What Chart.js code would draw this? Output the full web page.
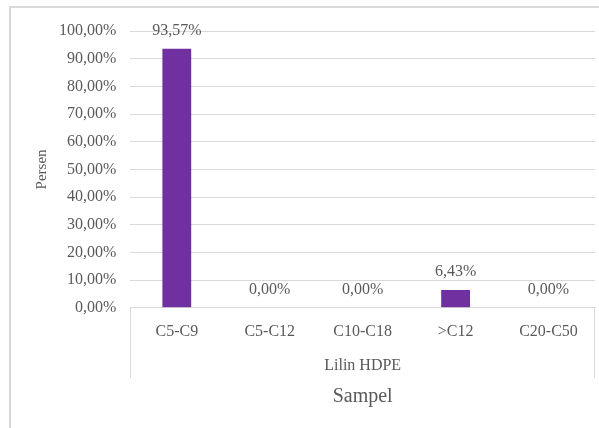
<!DOCTYPE html>
<html lang="en">
<head>
    <meta charset="UTF-8">
    <title>Lilin HDPE</title>
    <style>
        body {
            margin: 0;
            padding: 0;
            background-color: #ffffff;
        }
        .chart-container {
            width: 599px;
            height: 428px;
        }
    </style>
</head>
<body>

    <div class="chart-container">
        <canvas id="hdpeChart"></canvas>
    </div>

    <script src="https://cdn.jsdelivr.net/npm/chart.js"></script>

    <script>
        const categories = ['C5-C9', 'C5-C12', 'C10-C18', '>C12', 'C20-C50'];
        const persen = [0.9357, 0, 0, 0.0643, 0];
        const groupLabel = 'Lilin HDPE';
        const xTitle = 'Sampel';
        const yTitle = 'Persen';

        const textColor = '#595959';
        const lineColor = '#d9d9d9';
        const serif = "'Liberation Serif', 'Times New Roman', serif";

        function pct(v) {
            return (v * 100).toFixed(2).replace('.', ',') + '%';
        }

        // labels above bars, the group label and the frame
        const extras = {
            id: 'extras',
            afterDraw(chart) {
                const c = chart.ctx;
                const area = chart.chartArea;
                const meta = chart.getDatasetMeta(0);

                c.save();
                c.fillStyle = textColor;
                c.font = '16px ' + serif;
                c.textAlign = 'center';
                c.textBaseline = 'bottom';
                meta.data.forEach((bar, i) => {
                    c.fillText(pct(persen[i]), bar.x, bar.y - 10);
                });

                // group box lines
                c.strokeStyle = lineColor;
                c.lineWidth = 1;
                c.beginPath();
                c.moveTo(Math.round(area.left) + 0.5, area.bottom);
                c.lineTo(Math.round(area.left) + 0.5, area.bottom + 70);
                c.moveTo(Math.round(area.right) - 0.5, area.bottom);
                c.lineTo(Math.round(area.right) - 0.5, area.bottom + 70);
                c.stroke();

                c.textBaseline = 'middle';
                c.fillText(groupLabel, (area.left + area.right) / 2, area.bottom + 58);

                // outer frame (cut by the picture edge)
                c.lineWidth = 2;
                c.beginPath();
                c.moveTo(10, chart.height + 5);
                c.lineTo(10, 7);
                c.lineTo(chart.width + 5, 7);
                c.stroke();
                c.restore();
            }
        };

        const ctx = document.getElementById('hdpeChart').getContext('2d');
        new Chart(ctx, {
            type: 'bar',
            data: {
                labels: categories,
                datasets: [{
                    label: groupLabel,
                    data: persen,
                    backgroundColor: '#7030a0',
                    barPercentage: 0.31,
                    categoryPercentage: 1
                }]
            },
            options: {
                responsive: true,
                maintainAspectRatio: false,
                animation: false,
                layout: {
                    padding: { left: 27, top: 31, right: 4, bottom: 19 }
                },
                plugins: {
                    legend: { display: false },
                    tooltip: { enabled: false }
                },
                scales: {
                    x: {
                        grid: { display: false },
                        border: { color: lineColor },
                        ticks: {
                            color: textColor,
                            font: { family: serif, size: 16 },
                            padding: 6,
                            maxRotation: 0
                        },
                        title: {
                            display: true,
                            text: xTitle,
                            color: textColor,
                            font: { family: serif, size: 20 },
                            padding: { top: 38, bottom: 0 }
                        }
                    },
                    y: {
                        min: 0,
                        max: 1,
                        ticks: {
                            stepSize: 0.1,
                            color: textColor,
                            font: { family: serif, size: 16 },
                            padding: 14,
                            callback: (v) => pct(v)
                        },
                        grid: { color: lineColor, drawTicks: false },
                        border: { display: false },
                        title: {
                            display: true,
                            text: yTitle,
                            color: textColor,
                            font: { family: serif, size: 15 },
                            padding: { top: 6, bottom: -6 }
                        }
                    }
                }
            },
            plugins: [extras]
        });
    </script>

</body>
</html>
